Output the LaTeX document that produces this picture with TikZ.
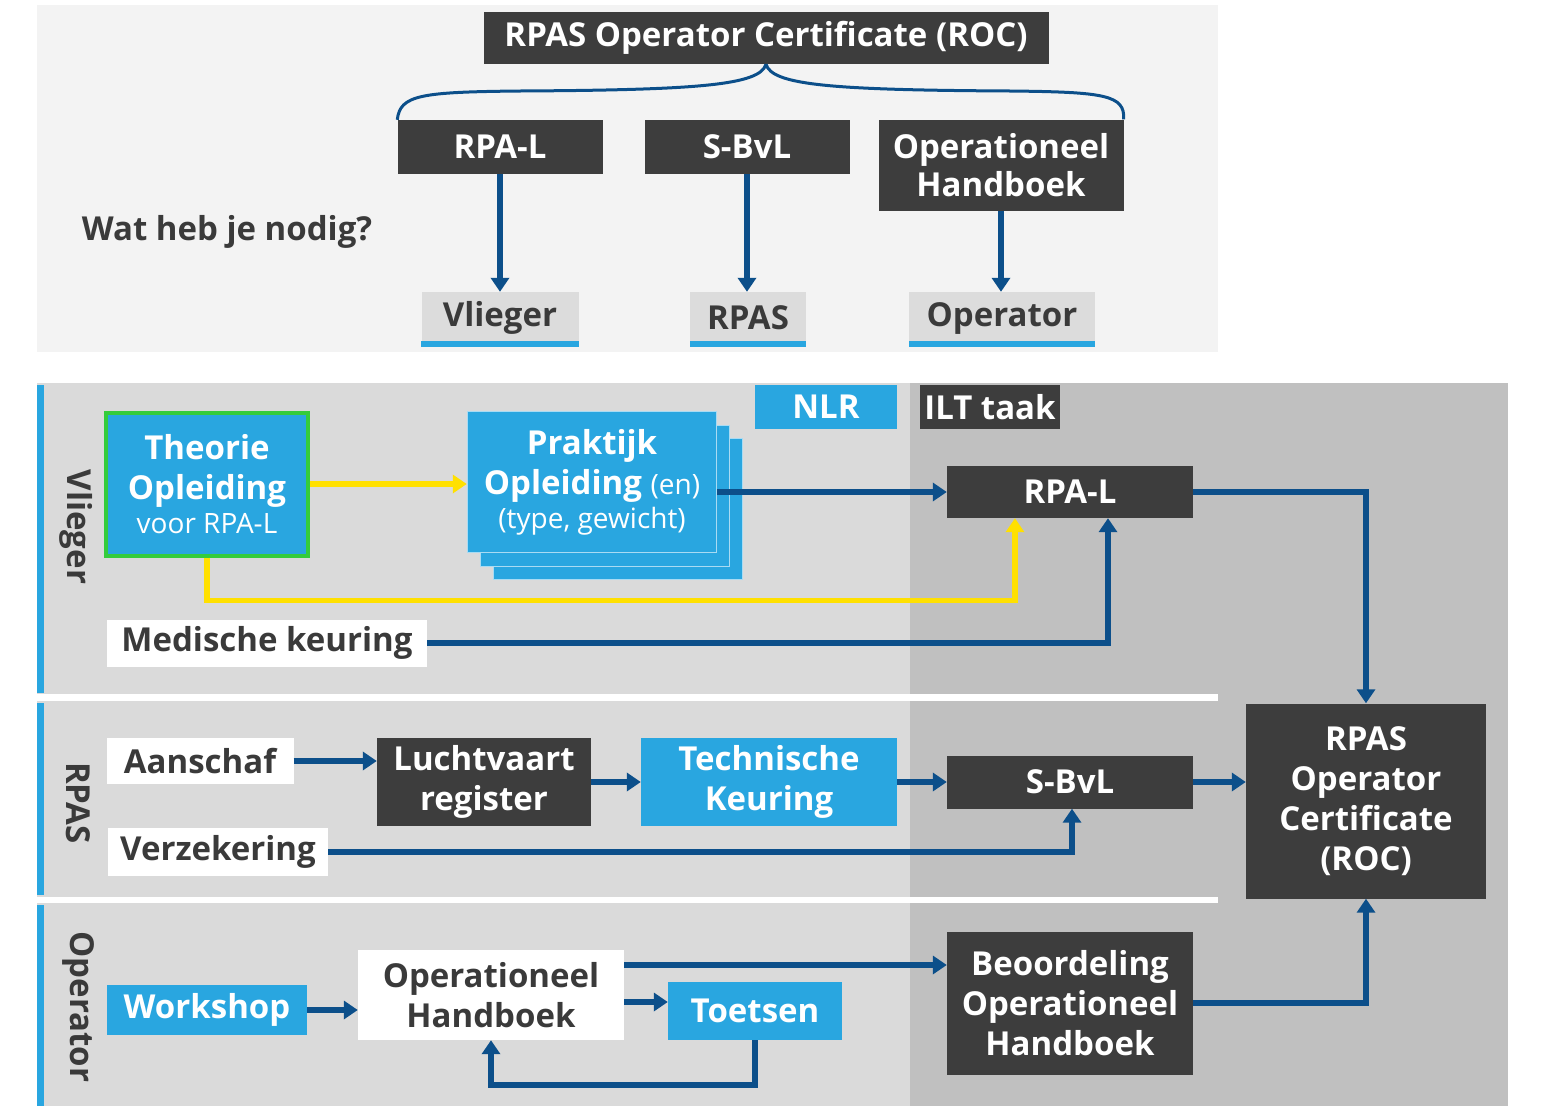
\documentclass[tikz,border=0pt]{standalone}
\usepackage{fontspec}
\setmainfont{Open Sans}
\usepackage{tikz}
\usetikzlibrary{arrows.meta,positioning}
\definecolor{roblue}{RGB}{41, 166, 224}
\definecolor{rodark}{RGB}{61, 61, 61}
\definecolor{roarrow}{RGB}{12, 79, 138}
\definecolor{royellow}{RGB}{255, 224, 0}
\definecolor{rogreen}{RGB}{52, 204, 60}
\definecolor{rotext}{RGB}{58, 58, 58}
\definecolor{topgray}{RGB}{243, 243, 243}
\definecolor{lanelight}{RGB}{218, 218, 218}
\definecolor{lanedark}{RGB}{192, 192, 192}
\definecolor{taggray}{RGB}{220, 220, 220}
\newcommand{\notetxt}{\fontsize{28}{34}\selectfont\mdseries}

\tikzset{
  box/.style={inner sep=0pt, align=center, font=\fontsize{33}{40}\selectfont\bfseries},
  darkbox/.style={box, fill=rodark, text=white},
  bluebox/.style={box, fill=roblue, text=white},
  whitebox/.style={box, fill=white, text=rotext},
  tagbox/.style={box, fill=taggray, text=rotext},
  flow/.style={draw=roarrow, line width=5.5pt, -{Triangle[length=14pt,width=18pt]}},
  yflow/.style={flow, draw=royellow},
  brace/.style={draw=roarrow, line width=3pt},
  lanelabel/.style={rotate=-90, text=rotext, font=\fontsize{33}{40}\selectfont\bfseries}
}

\begin{document}
\begin{tikzpicture}[x=1pt, y=-1pt]
\useasboundingbox (0,0) rectangle (1543,1106);
\fill[white] (0,0) rectangle (1543,1106);

% backgrounds
\fill[topgray] (37,5) rectangle (1218,352);
\fill[lanelight] (37,383) rectangle (910,1106);
\fill[lanedark] (910,383) rectangle (1508,1106);
\fill[white] (37,694) rectangle (1218,701);
\fill[white] (37,897) rectangle (1218,903);
\fill[roblue] (37,385) rectangle (44,693);
\fill[roblue] (37,703) rectangle (44,895);
\fill[roblue] (37,905) rectangle (44,1106);

% top: what is needed
\node[darkbox, minimum width=565, minimum height=52] (roctop) at (766,38) {RPAS Operator Certificate (ROC)};
\node[darkbox, minimum width=205, minimum height=54] (toprpal) at (500,147) {RPA-L};
\node[darkbox, minimum width=205, minimum height=54] (topsbvl) at (747,147) {S-BvL};
\node[darkbox, minimum width=245, minimum height=91, font=\fontsize{33}{38}\selectfont\bfseries] (topoh) at (1001,165) {Operationeel\\Handboek};
\node[tagbox, minimum width=157, minimum height=52] (tagvl) at (500,318) {Vlieger};
\node[tagbox, minimum width=116, minimum height=52] (tagrp) at (748,318) {RPAS};
\node[tagbox, minimum width=186, minimum height=52] (tagop) at (1002,318) {Operator};
\node[text=rotext, font=\fontsize{33}{40}\selectfont\bfseries] (wat) at (227,232) {Wat heb je nodig?};

\foreach \t in {tagvl,tagrp,tagop}
  \fill[roblue] ([yshift=3pt]\t.south west) rectangle ([yshift=-3pt]\t.south east);

\draw[brace] (toprpal.north west) .. controls (400,95) and (420,92) .. (520,91)
  .. controls (700,90) and (760,85) .. (roctop.south);
\draw[brace] (topoh.north east) .. controls (1125,95) and (1105,92) .. (1010,91)
  .. controls (830,90) and (772,85) .. (roctop.south);

\draw[flow] (toprpal.south) -- (toprpal.south |- tagvl.north);
\draw[flow] (topsbvl.south) -- (topsbvl.south |- tagrp.north);
\draw[flow] (topoh.south) -- (topoh.south |- tagop.north);

% lane labels
\node[lanelabel] (lvl) at (76,527) {Vlieger};
\node[lanelabel] (lrp) at (78,803) {RPAS};
\node[lanelabel] (lop) at (78,1007) {Operator};

\node[bluebox, minimum width=142, minimum height=44] (nlr) at (826,407) {NLR};
\node[darkbox, minimum width=140, minimum height=44] (ilt) at (990,407) {ILT taak};

% Vlieger
\node[bluebox, draw=rogreen, line width=4pt, minimum width=202, minimum height=143] (theorie) at (207,484)
  {Theorie\\Opleiding\\[-6pt]{\notetxt voor RPA-L}};
\node[bluebox, draw=white!60!roblue, line width=1.5pt, minimum width=249, minimum height=141] (prak3) at (618,509) {};
\node[bluebox, draw=white!60!roblue, line width=1.5pt, minimum width=249, minimum height=141] (prak2) at (605,496) {};
\node[bluebox, draw=white!60!roblue, line width=1.5pt, minimum width=249, minimum height=141] (praktijk) at (592,482)
  {Praktijk\\Opleiding {\notetxt (en)}\\[-6pt]{\notetxt (type, gewicht)}};
\node[darkbox, minimum width=246, minimum height=52] (rpal) at (1070,492) {RPA-L};
\node[whitebox, minimum width=320, minimum height=47] (med) at (267,643) {Medische keuring};

\draw[yflow] (theorie.east) -- (theorie.east -| praktijk.west);
\draw[yflow] (theorie.south) -- ++(0,43) -| ([xshift=-55pt]rpal.south);
\draw[flow] (praktijk.east |- rpal.west) -- (rpal.west);
\draw[flow] (med.east) -| ([xshift=38pt]rpal.south);

% RPAS
\node[darkbox, minimum width=240, minimum height=195] (roc) at (1366,801) {RPAS\\Operator\\Certificate\\(ROC)};
\node[whitebox, minimum width=187, minimum height=46] (aan) at (200,761) {Aanschaf};
\node[darkbox, minimum width=214, minimum height=88] (lucht) at (484,782) {Luchtvaart\\register};
\node[bluebox, minimum width=256, minimum height=88] (tech) at (769,782) {Technische\\Keuring};
\node[darkbox, minimum width=246, minimum height=53] (sbvl) at (1070,782) {S-BvL};
\node[whitebox, minimum width=220, minimum height=48] (verz) at (218,852) {Verzekering};

\draw[flow] (rpal.east) -| (roc.north);
\draw[flow] (aan.east) -- (aan.east -| lucht.west);
\draw[flow] (lucht.east) -- (tech.west);
\draw[flow] (tech.east) -- (sbvl.west);
\draw[flow] (sbvl.east) -- (sbvl.east -| roc.west);
\draw[flow] (verz.east) -| ([xshift=2pt]sbvl.south);

% Operator
\node[bluebox, minimum width=200, minimum height=50] (work) at (207,1010) {Workshop};
\node[whitebox, minimum width=266, minimum height=90] (ohb) at (491,995) {Operationeel\\Handboek};
\node[bluebox, minimum width=174, minimum height=58] (toets) at (755,1011) {Toetsen};
\node[darkbox, minimum width=246, minimum height=143] (beo) at (1070,1003) {Beoordeling\\Operationeel\\Handboek};

\draw[flow] (work.east) -- (work.east -| ohb.west);
\draw[flow] ([yshift=-7pt]ohb.east) -- ([yshift=-7pt]ohb.east -| toets.west);
\draw[flow] ([yshift=30pt]ohb.east) -- ([yshift=30pt]ohb.east -| beo.west);
\draw[flow] (toets.south) -- ++(0,45) -| (ohb.south);
\draw[flow] (beo.east) -| (roc.south);
\end{tikzpicture}
\end{document}
